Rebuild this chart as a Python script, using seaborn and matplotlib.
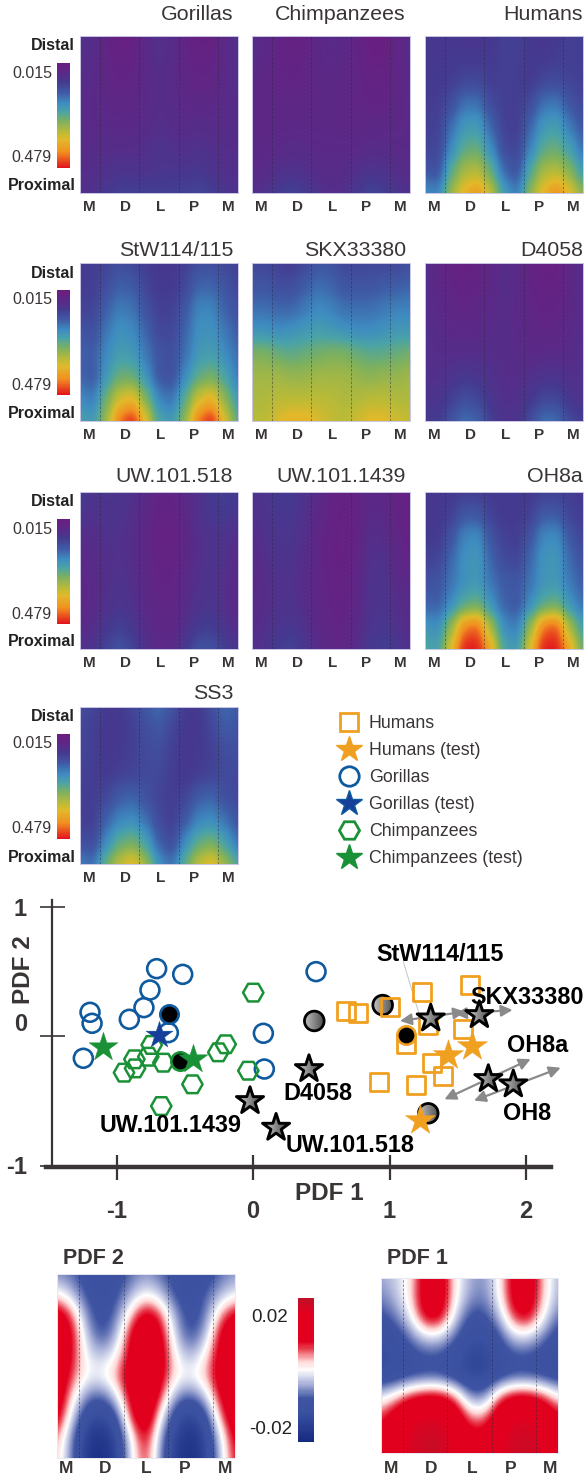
import numpy as np
import seaborn as sns
import matplotlib
matplotlib.use("Agg")
import matplotlib.pyplot as plt
from matplotlib.colors import LinearSegmentedColormap
from matplotlib.lines import Line2D
from matplotlib.markers import MarkerStyle
from matplotlib.patches import PathPatch
from matplotlib.transforms import Affine2D

sns.set_theme(style="white")
plt.rcParams["font.family"] = ["Liberation Sans", "DejaVu Sans"]

W, H = 585, 1477
INK = "#3a3535"

# ---------- data ----------
sector_labels = ["M", "D", "L", "P", "M"]
titles = ["Gorillas", "Chimpanzees", "Humans", "StW114/115", "SKX33380", "D4058",
          "UW.101.518", "UW.101.1439", "OH8a", "SS3"]

gorillas_map = [
    [14,12,6,2,4,10,13,12,6,3,3,9,14],
    [13,11,7,4,5,10,13,11,7,5,5,10,14],
    [12,10,8,6,7,10,12,11,8,6,7,10,13],
    [11,10,9,8,8,10,12,11,9,9,9,10,12],
    [11,10,10,10,10,11,13,12,11,12,11,11,12],
    [11,11,12,12,12,13,15,14,13,14,13,12,12],
    [12,12,14,15,15,15,16,16,16,17,15,13,13],
    [13,14,18,20,20,20,20,20,21,22,20,16,14]]
chimps_map = [
    [12,10,6,3,5,9,11,10,6,2,2,7,11],
    [11,9,6,5,6,9,10,9,6,3,3,7,11],
    [9,8,7,6,7,8,9,8,7,5,5,7,10],
    [8,8,8,8,8,8,9,8,7,6,6,8,10],
    [8,8,9,9,9,9,9,8,8,9,9,9,10],
    [8,9,10,11,11,10,10,10,10,11,11,10,10],
    [10,11,13,14,13,11,11,11,13,15,14,12,11],
    [12,14,19,21,19,15,12,13,18,22,20,16,13]]
humans_map = [
    [17,17,17,16,16,17,20,20,17,16,18,20,19],
    [17,17,18,18,18,18,20,20,18,18,19,20,19],
    [18,18,19,22,22,19,20,19,18,22,23,21,20],
    [19,19,24,33,33,23,20,19,23,33,34,26,22],
    [20,20,32,42,43,30,20,19,30,42,44,34,26],
    [22,21,38,50,52,38,23,21,36,50,52,44,32],
    [26,24,50,63,65,52,30,24,48,63,65,57,42],
    [40,36,62,76,84,68,44,34,60,76,86,74,58]]
stw_map = [
    [19,19,21,24,22,19,17,17,20,24,24,22,20],
    [19,19,24,29,28,21,18,18,22,30,30,26,22],
    [21,21,29,35,33,25,20,20,27,37,37,29,25],
    [26,24,34,40,38,30,22,22,30,40,40,34,28],
    [30,28,38,44,42,34,26,24,32,42,44,38,32],
    [30,26,42,52,52,40,26,24,38,50,54,46,34],
    [38,34,54,70,74,56,36,32,50,70,76,58,42],
    [46,42,62,90,100,74,46,42,60,90,100,72,50]]
skx_map = [
    [22,22,20,18,22,26,26,22,22,22,22,22,24],
    [26,26,24,24,28,32,30,26,26,26,28,28,30],
    [32,32,30,30,34,38,36,32,32,32,34,36,36],
    [40,40,38,40,42,44,42,40,38,38,40,42,42],
    [56,56,52,50,52,54,56,56,52,50,50,52,54],
    [62,62,62,60,60,62,62,62,60,58,60,60,62],
    [64,64,66,66,66,66,66,64,64,66,66,64,64],
    [66,66,72,76,76,72,68,66,70,74,74,70,68]]
d4058_map = [
    [12,8,4,3,4,8,12,10,5,3,3,8,12],
    [12,9,6,5,6,9,12,10,6,4,4,9,12],
    [12,10,8,7,8,10,12,10,7,6,6,9,12],
    [13,11,10,9,10,11,12,10,8,7,8,10,12],
    [13,12,12,12,12,12,12,11,10,10,11,11,13],
    [14,13,15,17,16,14,12,12,13,15,15,13,14],
    [15,15,20,24,22,16,13,13,17,22,22,16,15],
    [19,18,26,33,30,20,15,15,24,33,32,23,19]]
uw518_map = [
    [18,16,16,16,14,10,6,6,10,14,18,20,18],
    [16,14,15,15,13,9,5,5,9,14,17,18,16],
    [12,12,14,14,12,8,4,4,8,13,15,15,12],
    [10,11,13,14,12,8,5,5,9,13,15,14,10],
    [8,10,13,15,13,9,6,6,10,14,15,13,9],
    [8,10,14,16,14,10,7,7,11,15,16,13,9],
    [10,12,17,20,17,11,8,8,13,18,19,15,11],
    [14,15,22,26,22,14,10,10,18,26,26,20,15]]
uw1439_map = [
    [14,16,18,18,15,10,6,4,5,9,8,4,4],
    [13,15,17,17,14,9,5,3,5,11,10,5,4],
    [11,14,16,16,13,8,4,3,6,13,12,7,5],
    [10,13,15,15,12,8,4,3,7,14,14,9,6],
    [9,12,14,14,11,8,5,4,8,15,15,11,8],
    [10,12,14,15,12,8,6,5,9,15,16,13,10],
    [11,13,16,17,14,9,7,6,10,16,17,14,11],
    [13,15,19,21,17,11,8,7,12,18,20,17,13]]
oh8a_map = [
    [17,17,18,19,19,18,18,18,18,20,20,19,18],
    [17,17,20,27,27,20,18,18,20,28,28,21,19],
    [18,18,26,37,39,26,20,19,26,38,39,27,21],
    [21,21,31,40,42,30,23,21,31,41,42,31,25],
    [25,26,33,40,42,33,28,27,33,41,42,34,28],
    [30,28,38,48,52,40,29,26,38,48,52,40,32],
    [42,38,60,88,92,62,38,34,60,90,94,62,44],
    [48,44,74,100,100,80,46,42,74,100,100,80,52]]
ss3_map = [
    [24,22,18,18,22,27,32,26,18,18,24,32,28],
    [22,20,17,17,20,24,27,22,17,17,22,28,26],
    [22,20,17,18,20,23,24,20,17,18,20,24,24],
    [21,19,18,20,21,23,23,19,17,19,21,23,23],
    [20,19,22,28,30,25,21,19,21,28,30,24,22],
    [20,19,29,36,38,32,23,19,27,36,38,32,26],
    [24,22,38,50,54,44,28,22,38,50,54,44,32],
    [36,32,54,68,76,62,40,32,52,68,76,62,48]]
panel_maps = [gorillas_map, chimps_map, humans_map, stw_map, skx_map, d4058_map,
              uw518_map, uw1439_map, oh8a_map, ss3_map]

pdf2_map = [
    [-30,-35,-50,-55,-50,-35,-25,-35,-50,-55,-50,-35,-25],
    [5,-15,-45,-50,-45,-20,0,-15,-45,-50,-40,-20,-5],
    [60,30,-30,-50,-35,15,55,30,-25,-50,-35,20,50],
    [70,45,-15,-45,-20,45,75,50,-15,-45,-20,45,70],
    [75,40,-5,-15,0,50,85,55,0,-20,5,50,80],
    [70,30,0,0,20,60,90,50,5,0,15,55,85],
    [65,10,-30,-40,-10,50,80,30,-25,-40,-15,40,75],
    [55,-10,-60,-70,-50,35,70,0,-60,-75,-55,20,65],
    [25,-30,-80,-90,-70,0,50,-25,-75,-90,-70,-10,50],
    [15,-30,-85,-95,-75,-5,40,-30,-80,-95,-75,-15,40]]
pdf1_map = [
    [-22,-12,5,55,60,5,-20,-28,0,52,60,15,-20],
    [-30,-18,8,58,62,5,-25,-32,-2,52,60,14,-22],
    [-45,-32,-5,48,50,-8,-45,-45,-20,35,48,0,-35],
    [-60,-52,-32,-8,-8,-35,-60,-60,-45,-10,-8,-30,-52],
    [-65,-60,-50,-44,-44,-56,-70,-70,-56,-44,-44,-52,-60],
    [-64,-58,-50,-46,-46,-58,-70,-70,-56,-46,-46,-50,-58],
    [-12,5,30,42,42,20,-32,-35,18,42,42,28,-2],
    [28,55,78,82,82,65,15,12,62,80,82,68,42],
    [45,70,85,92,92,78,50,48,78,88,92,78,55],
    [45,70,85,95,95,78,55,52,78,92,95,78,55]]

gor_x = [-0.706,-0.515,-0.755,-0.799,-0.906,-1.194,-1.179,-1.243,-0.620,0.076,0.083,0.462]
gor_y = [0.520,0.476,0.355,0.219,0.129,0.183,0.098,-0.172,0.026,0.021,-0.255,0.497]
chi_x = [0.002,-0.200,-0.254,-0.742,-0.767,-0.869,-0.864,-0.945,-0.657,-0.034,-0.444,-0.672]
chi_y = [0.335,-0.064,-0.126,-0.069,-0.160,-0.180,-0.250,-0.283,-0.206,-0.268,-0.373,-0.541]
hum_x = [0.681,0.767,1.001,1.236,1.590,1.284,1.536,1.118,1.311,1.394,0.923,1.192]
hum_y = [0.193,0.175,0.224,0.337,0.394,0.085,0.054,-0.062,-0.208,-0.309,-0.353,-0.378]
hum_test_x, hum_test_y = [1.431,1.607,1.223], [-0.147,-0.075,-0.649]
chi_test_x, chi_test_y = [-1.101,-0.442], [-0.082,-0.178]
gor_test_x, gor_test_y = [-0.689], [0.008]
centroid_x = [-0.615,-0.535,1.118]
centroid_y = [0.170,-0.190,0.005]
centroid_edges = ["#0f5a9e","#1a9136","#f0a020"]
gray_circle_x = [0.950,0.449,1.284]
gray_circle_y = [0.239,0.116,-0.597]
fossil_names = ["StW114/115","SKX33380","OH8a","OH8","D4058","UW.101.1439","UW.101.518"]
fossil_x = [1.302,1.658,1.724,1.907,0.410,-0.022,0.169]
fossil_y = [0.136,0.162,-0.332,-0.373,-0.255,-0.502,-0.708]
arrow_x0 = [1.077,1.480,1.402,1.619]
arrow_y0 = [0.116,0.170,-0.489,-0.499]
arrow_x1 = [1.553,1.902,2.034,2.254]
arrow_y1 = [0.188,0.201,-0.178,-0.245]
legend_names = ["Humans","Humans (test)","Gorillas","Gorillas (test)","Chimpanzees","Chimpanzees (test)"]

BLUE, GREEN, ORANGE = "#0f5a9e", "#1a9136", "#f0a020"

# ---------- colour maps ----------
rainbow = LinearSegmentedColormap.from_list("rb", [
    (0.00,"#6c1d80"),(0.10,"#5a2a88"),(0.18,"#453a90"),(0.28,"#3f5ba6"),(0.38,"#3e8cc0"),
    (0.46,"#4aa3a8"),(0.55,"#79b062"),(0.66,"#b9bb38"),(0.73,"#e2b92a"),(0.85,"#f19020"),
    (1.00,"#e3141e")])
diverge = LinearSegmentedColormap.from_list("dv", [
    (0.00,"#162a80"),(0.20,"#3a50a0"),(0.30,"#3f55a3"),(0.40,"#a8b0d8"),(0.50,"#ffffff"),
    (0.56,"#ffd8d8"),(0.65,"#e8404f"),(0.70,"#e2001f"),(0.90,"#e2001f"),(1.00,"#c01028")])

fig = plt.figure(figsize=(W/100, H/100), dpi=100, facecolor="white")

def px_axes(x0, y0, x1, y1):
    return fig.add_axes([x0/W, 1-y1/H, (x1-x0)/W, (y1-y0)/H])

def ftext(x, y, s, **kw):
    kw.setdefault("color", INK)
    fig.text(x/W, 1-y/H, s, **kw)

def smooth_panel(ax, grid, cmap, vmin, vmax, edge, tick_x, interp="gaussian"):
    grid = np.array(grid, float)
    nr, nc = grid.shape
    dx, dy = 0.5/(nc-1), 0.5/(nr-1)
    ax.imshow(grid, cmap=cmap, vmin=vmin, vmax=vmax, aspect="auto", origin="upper",
              interpolation=interp, extent=[-dx, 1+dx, 1+dy, -dy])
    ax.set_xlim(0, 1); ax.set_ylim(1, 0)
    for v in (0.125, 0.375, 0.625, 0.875):
        ax.axvline(v, color="#2a2a3a", lw=0.6, ls=(0, (3, 2)), alpha=0.55)
    ax.set_yticks([])
    ax.set_xticks(tick_x)
    ax.set_xticklabels(sector_labels, fontweight="bold", fontsize=11, color=INK)
    ax.tick_params(axis="x", length=0, pad=5, bottom=False)
    ax.grid(False)
    for s in ax.spines.values():
        s.set_color(edge); s.set_linewidth(0.7)

def gradient_bar(rect, cmap, vmin, vmax):
    cax = px_axes(*rect)
    levels = np.linspace(vmin, vmax, 128)[:, None]
    sns.heatmap(levels, ax=cax, cmap=cmap, vmin=vmin, vmax=vmax, cbar=False,
                xticklabels=False, yticklabels=False)
    for s in cax.spines.values():
        s.set_visible(False)
    return cax

cols = [(80, 238), (252, 410), (425, 583)]
rows = [(36, 193), (263, 421), (492, 649), (707, 864)]
title_right = [233, 406, 583]
title_y = [14, 251, 477, 693]
ticks = [0.06, 0.285, 0.51, 0.72, 0.94]
for i, (grid, title) in enumerate(zip(panel_maps, titles)):
    r, c = divmod(i, 3)
    x0, x1 = cols[c]; y0, y1 = rows[r]
    ax = px_axes(x0, y0, x1, y1)
    smooth_panel(ax, grid, rainbow, 0, 100, "#c9c6e4", ticks)
    ftext(title_right[c], title_y[r], title, ha="right", va="center", fontsize=15.4)
    if c == 0:
        ftext(75, y0+10, "Distal", ha="right", va="center", fontweight="bold", fontsize=11.5, color="#222")
        ftext(76, y0+150, "Proximal", ha="right", va="center", fontweight="bold", fontsize=11.5, color="#222")
        ftext(52, y0+37, "0.015", ha="right", va="center", fontsize=11.5)
        ftext(52, y0+122, "0.479", ha="right", va="center", fontsize=11.5)
        gradient_bar((57, y0+27, 70, y0+132), rainbow, 0, 100)

# ---------- scatter ----------
sax = px_axes(46, 900, 551, 1180)
sax.set_xlim((46-253)/136.5, (551-253)/136.5)
sax.set_ylim((1036-1180)/129.5, (1036-900)/129.5)
sax.patch.set_alpha(0)
sax.grid(False)
for name in ("top", "right"):
    sax.spines[name].set_visible(False)
sax.spines["left"].set_position(("data", -1.472))
sax.spines["left"].set_bounds(-1.012, 1.05)
sax.spines["left"].set_linewidth(1.6)
sax.spines["left"].set_color(INK)
sax.spines["bottom"].set_position(("data", -1.012))
sax.spines["bottom"].set_linewidth(3.2)
sax.spines["bottom"].set_color(INK)
sax.set_xticks([-1, 0, 1, 2], ["-1", "0", "1", "2"])
sax.set_yticks([-1, 0, 1], ["-1", "0", "1"])
sax.tick_params(axis="x", direction="inout", length=18, width=1.6, color=INK, pad=15, labelsize=17,
                labelcolor=INK, bottom=True)
sax.tick_params(axis="y", direction="inout", length=18, width=1.2, color=INK, pad=9, labelsize=17,
                labelcolor=INK, left=True)
for lab in sax.get_xticklabels() + sax.get_yticklabels():
    lab.set_fontweight("bold")
sax.get_yticklabels()[1].set_va("bottom")
ftext(329, 1194, "PDF 1", ha="center", va="center", fontweight="bold", fontsize=17.5)
ftext(24, 970, "PDF 2", ha="center", va="center", rotation=90, fontweight="bold", fontsize=17.5)

def pts(x, y, marker, s, edge, lw, face="none", z=3):
    sns.scatterplot(x=x, y=y, ax=sax, marker=marker, s=s, facecolor=face, edgecolor=edge,
                    linewidth=lw, zorder=z, legend=False)
    sax.set_xlabel(""); sax.set_ylabel("")

def gradient_markers(xs, ys, marker, s, z):
    """Grey metallic fill clipped to the marker shape."""
    ramp = np.linspace(0.85, 0.22, 32)[None, :]
    ms = MarkerStyle(marker)
    path = ms.get_path().transformed(ms.get_transform())
    xlim, ylim = sax.get_xlim(), sax.get_ylim()
    for x, y in zip(xs, ys):
        X, Y = sax.transData.transform((x, y))
        k = np.sqrt(s) * 100 / 72
        patch = PathPatch(path.transformed(Affine2D().scale(k).translate(X, Y)),
                          transform=None, fc="none", ec="none")
        r = 14
        im = sax.imshow(ramp, cmap="gray", vmin=0, vmax=1, aspect="auto", zorder=z,
                        extent=[x-r/136.5, x+r/136.5, y-r/129.5, y+r/129.5])
        im.set_clip_path(patch)
    sax.set_xlim(xlim); sax.set_ylim(ylim)

gradient_markers(gray_circle_x, gray_circle_y, "o", 200, 2)
pts(gray_circle_x, gray_circle_y, "o", 200, "black", 2.0, z=2.1)
pts(gor_x, gor_y, "o", 185, BLUE, 1.9)
pts(chi_x, chi_y, "H", 215, GREEN, 1.8)
pts(hum_x, hum_y, "s", 165, ORANGE, 2.0)
for x, y, e in zip(centroid_x, centroid_y, centroid_edges):
    pts([x], [y], "o", 175, e, 1.9, face="black", z=4)
pts(chi_test_x, chi_test_y, "*", 480, GREEN, 0.3, face=GREEN, z=4)
pts(gor_test_x, gor_test_y, "*", 420, BLUE, 0.3, face="#173f99", z=4)
pts(hum_test_x, hum_test_y, "*", 520, ORANGE, 0.3, face=ORANGE, z=5)
gradient_markers(fossil_x, fossil_y, "*", 420, 6)
pts(fossil_x, fossil_y, "*", 420, "black", 2.1, z=6.1)

for x0, y0, x1, y1 in zip(arrow_x0, arrow_y0, arrow_x1, arrow_y1):
    sax.annotate("", xy=(x1, y1), xytext=(x0, y0), zorder=5.5, annotation_clip=False,
                 arrowprops=dict(arrowstyle="<|-|>", color="#8a8a8a", lw=1.6, mutation_scale=17,
                                 shrinkA=0, shrinkB=0))
sax.plot([1.101, 1.223], [0.574, 0.149], color="#c4c4c4", lw=0.7, zorder=1.5)

label_x = [376, 470, 507, 503, 283, 100, 286]
label_y = [955, 998, 1045, 1113, 1094, 1125, 1145]
for name, lx, ly in zip(fossil_names, label_x, label_y):
    ftext(lx, ly, name, ha="left", va="center", fontweight="bold", fontsize=16.8, color="black")

# ---------- legend ----------
handles = [
    Line2D([], [], ls="", marker="s", ms=12.5, mfc="none", mec=ORANGE, mew=2),
    Line2D([], [], ls="", marker="*", ms=19, mfc=ORANGE, mec=ORANGE),
    Line2D([], [], ls="", marker="o", ms=14, mfc="none", mec=BLUE, mew=2),
    Line2D([], [], ls="", marker="*", ms=19, mfc="#173f99", mec=BLUE),
    Line2D([], [], ls="", marker="H", ms=14.5, mfc="none", mec=GREEN, mew=2),
    Line2D([], [], ls="", marker="*", ms=19, mfc=GREEN, mec=GREEN)]
leg = fig.legend(handles, legend_names, loc="upper left", bbox_to_anchor=(335/W, 1-715/H), frameon=False,
                 fontsize=12.8, labelspacing=0.56, handletextpad=0.3, borderpad=0, borderaxespad=0,
                 handlelength=1.6)
for t in leg.get_texts():
    t.set_color(INK)

# ---------- PDF maps ----------
ax = px_axes(57, 1274, 235, 1458)
smooth_panel(ax, pdf2_map, diverge, -100, 100, "#e8e8f0", [0.05, 0.27, 0.50, 0.72, 0.945], "bicubic")
ax.tick_params(axis="x", pad=2)
for lab in ax.get_xticklabels():
    lab.set_fontsize(12.5)
ftext(63, 1258, "PDF 2", ha="left", va="center", fontweight="bold", fontsize=15.5)

ax = px_axes(381, 1278, 558, 1453)
smooth_panel(ax, pdf1_map, diverge, -100, 100, "#e8e8f0", [0.055, 0.285, 0.515, 0.73, 0.955], "bicubic")
ax.tick_params(axis="x", pad=6)
for lab in ax.get_xticklabels():
    lab.set_fontsize(12.5)
ftext(387, 1258, "PDF 1", ha="left", va="center", fontweight="bold", fontsize=15.5)

gradient_bar((298, 1298, 314, 1442), diverge.reversed(), -100, 100)
ftext(288, 1318, "0.02", ha="right", va="center", fontsize=13.5, color="#222")
ftext(292, 1430, "-0.02", ha="right", va="center", fontsize=13.5, color="#222")

fig.savefig("out.png", dpi=100, facecolor="white")
